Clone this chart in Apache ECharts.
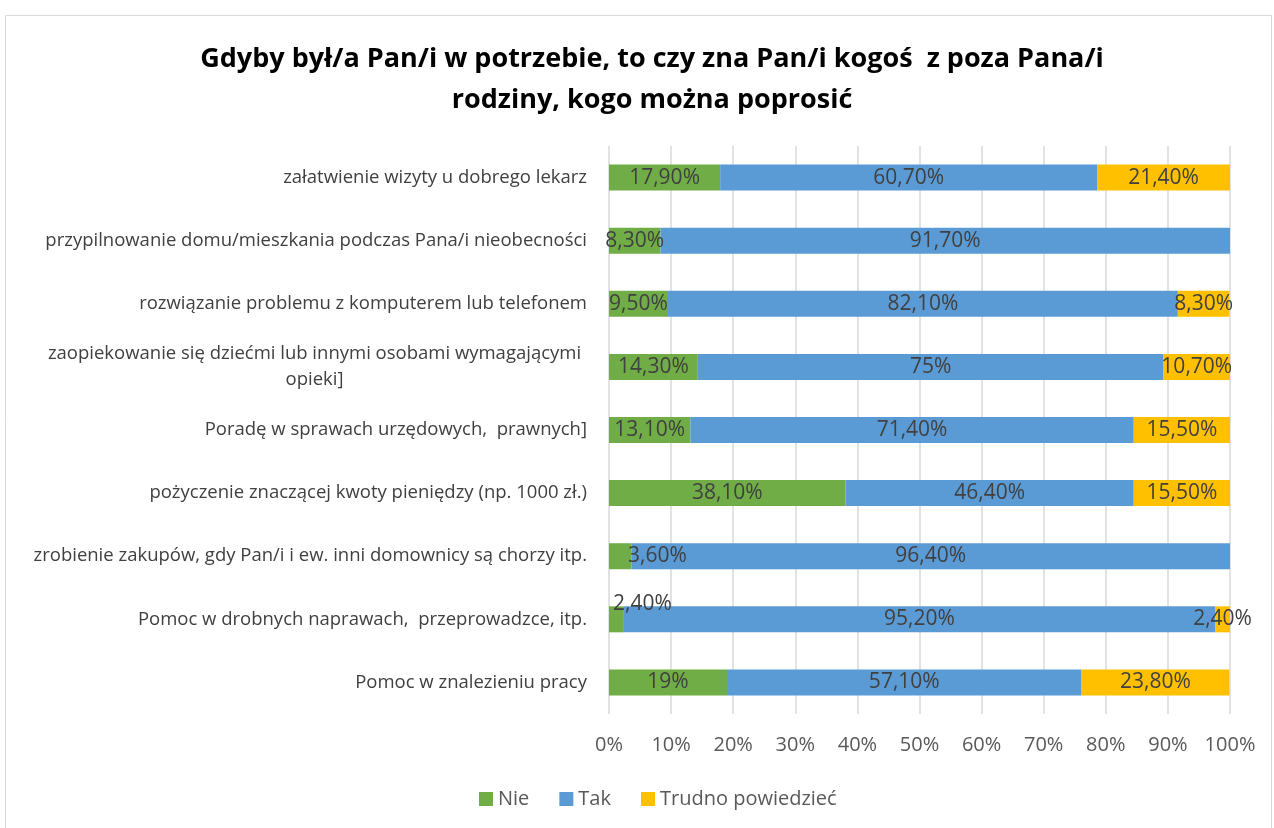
<!DOCTYPE html>
<html>
<head>
<meta charset="utf-8">
<script src="https://cdn.jsdelivr.net/npm/echarts@6/dist/echarts.min.js"></script>
<style>
    html, body { margin: 0; padding: 0; background: #fff; }
    #chart { width: 1274px; height: 828px; }
</style>
</head>
<body>
<div id="chart"></div>
<script>
const categories = [
    'załatwienie wizyty u dobrego lekarz',
    'przypilnowanie domu/mieszkania podczas Pana/i nieobecności',
    'rozwiązanie problemu z komputerem lub telefonem',
    'zaopiekowanie się dziećmi lub innymi osobami wymagającymi\nopieki]',
    'Poradę w sprawach urzędowych,  prawnych]',
    'pożyczenie znaczącej kwoty pieniędzy (np. 1000 zł.)',
    'zrobienie zakupów, gdy Pan/i i ew. inni domownicy są chorzy itp.',
    'Pomoc w drobnych naprawach,  przeprowadzce, itp.',
    'Pomoc w znalezieniu pracy'
];
const nie = [17.9, 8.3, 9.5, 14.3, 13.1, 38.1, 3.6, 2.4, 19];
const tak = [60.7, 91.7, 82.1, 75, 71.4, 46.4, 96.4, 95.2, 57.1];
const trudno = [21.4, 0, 8.3, 10.7, 15.5, 15.5, 0, 2.4, 23.8];
const xTicks = ['0%', '10%', '20%', '30%', '40%', '50%', '60%', '70%', '80%', '90%', '100%'];

const chart = echarts.init(document.getElementById('chart'));

const fmt = function (p) {
    const v = p.value;
    if (!v) return '';
    if (Number.isInteger(v)) return v + '%';
    return v.toFixed(2).replace('.', ',') + '%';
};

function makeSeries(name, values, color) {
    return {
        name: name,
        type: 'bar',
        stack: 'all',
        barWidth: 26,
        itemStyle: { color: color },
        label: {
            show: true,
            position: 'inside',
            formatter: fmt,
            color: '#404040',
            fontSize: 21,
            fontFamily: 'Open Sans'
        },
        data: values.slice()
    };
}

const sNie = makeSeries('Nie', nie, '#70ad47');
// tiny green segments: labels are pushed right / above like in Excel
sNie.data[6] = { value: nie[6], label: { position: 'insideLeft', offset: [14, 0] } };
sNie.data[7] = { value: nie[7], label: { position: 'insideLeft', offset: [-1, -15] } };

chart.setOption({
    animation: false,
    title: {
        text: 'Gdyby był/a Pan/i w potrzebie, to czy zna Pan/i kogoś  z poza Pana/i\nrodziny, kogo można poprosić',
        left: 647,
        textAlign: 'center',
        top: 34,
        textStyle: {
            fontFamily: 'Open Sans',
            fontWeight: 'bold',
            fontSize: 27,
            lineHeight: 41,
            color: '#000'
        }
    },
    graphic: [{
        type: 'rect',
        shape: { x: 5.5, y: 15.5, width: 1266, height: 840 },
        style: { fill: 'none', stroke: '#d9d9d9', lineWidth: 1 },
        silent: true
    }],
    legend: {
        bottom: 14,
        left: 474,
        itemWidth: 14,
        itemHeight: 14,
        itemGap: 30,
        icon: 'rect',
        textStyle: { fontFamily: 'Open Sans', fontSize: 20, color: '#595959' },
        data: ['Nie', 'Tak', 'Trudno powiedzieć']
    },
    grid: { left: 609, right: 44, top: 146, bottom: 114, containLabel: false },
    xAxis: {
        type: 'value',
        min: 0,
        max: 100,
        interval: 10,
        axisLine: { show: false },
        axisTick: { show: false },
        splitLine: { show: true, lineStyle: { color: '#d9d9d9', width: 1.5 } },
        axisLabel: {
            margin: 21,
            fontFamily: 'Open Sans',
            fontSize: 20,
            color: '#595959',
            formatter: function (v) { return xTicks[v / 10]; }
        }
    },
    yAxis: {
        type: 'category',
        inverse: true,
        data: categories,
        axisLine: { show: false },
        axisTick: { show: false },
        axisLabel: {
            margin: 22,
            fontFamily: 'Open Sans',
            fontSize: 18.5,
            color: '#404040',
            lineHeight: 26,
            formatter: function (v) {
                if (v.indexOf('\n') < 0) return v;
                return v.split('\n').map(function (s) { return '{c|' + s + '}'; }).join('\n');
            },
            rich: {
                c: { width: 545, align: 'center', fontFamily: 'Open Sans', fontSize: 18.5, color: '#404040', lineHeight: 26 }
            }
        }
    },
    series: [
        sNie,
        makeSeries('Tak', tak, '#5b9bd5'),
        makeSeries('Trudno powiedzieć', trudno, '#ffc000')
    ]
});
</script>
</body>
</html>
